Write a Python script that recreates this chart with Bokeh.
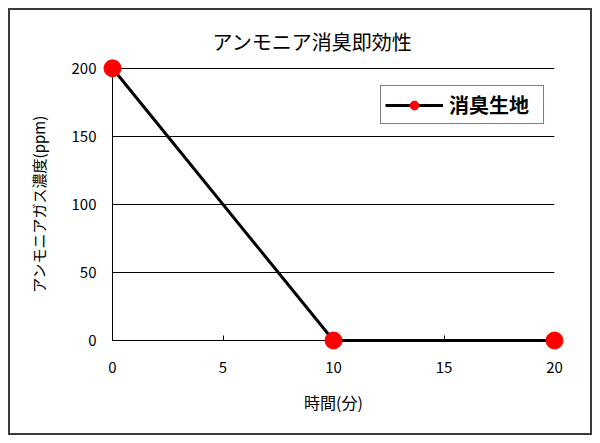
from bokeh.plotting import figure
from bokeh.models import Range1d, FixedTicker, Title, Legend, LegendItem
from bokeh.embed import file_html
from bokeh.resources import INLINE

# data
minutes = [0, 10, 20]
ppm = [200, 0, 0]
series_name = "消臭生地"
x_ticks = [0, 5, 10, 15, 20]
y_ticks = [0, 50, 100, 150, 200]

FONT = "Noto Sans CJK JP"

p = figure(width=584, height=427, output_backend="svg", toolbar_location=None,
           x_range=Range1d(0, 20), y_range=Range1d(0, 200.6),
           min_border_left=102, min_border_right=40, min_border_top=57, min_border_bottom=97)
p.styles = {"border": "2px solid #3a3a3a", "margin-left": "8px", "margin-top": "8px"}
p.outline_line_color = None
p.background_fill_color = "white"
p.border_fill_color = "white"

t = Title(text="アンモニア消臭即効性", align="left", offset=100,
          text_font=FONT, text_font_size="20px", text_font_style="normal",
          text_color="black", standoff=24)
p.add_layout(t, "above")

p.xgrid.grid_line_color = None
p.ygrid.grid_line_color = "black"
p.ygrid.grid_line_width = 1
p.ygrid.ticker = FixedTicker(ticks=y_ticks)

xa = p.xaxis[0]
xa.ticker = FixedTicker(ticks=x_ticks)
xa.axis_line_color = "black"
xa.major_tick_in = 5
xa.major_tick_out = 0
xa.major_tick_line_color = "black"
xa.minor_tick_line_color = None
xa.major_label_standoff = 21
xa.major_label_text_font = FONT
xa.major_label_text_font_size = "15px"
xa.major_label_text_color = "black"
xa.axis_label = "時間(分)"
xa.axis_label_text_font = FONT
xa.axis_label_text_font_size = "16px"
xa.axis_label_text_font_style = "normal"
xa.axis_label_text_color = "black"
xa.axis_label_standoff = 14

ya = p.yaxis[0]
ya.ticker = FixedTicker(ticks=y_ticks)
ya.axis_line_color = "black"
ya.major_tick_in = 0
ya.major_tick_out = 0
ya.minor_tick_line_color = None
ya.major_label_standoff = 16
ya.major_label_text_font = FONT
ya.major_label_text_font_size = "15px"
ya.major_label_text_color = "black"
ya.axis_label = "アンモニアガス濃度(ppm)"
ya.axis_label_text_font = FONT
ya.axis_label_text_font_size = "15px"
ya.axis_label_text_font_style = "normal"
ya.axis_label_text_color = "black"
ya.axis_label_standoff = 20

r_line = p.line(minutes, ppm, line_color="black", line_width=3, level="overlay")
r_pts = p.scatter(minutes, ppm, size=17, fill_color="red", line_color="red", level="overlay")

legend = Legend(items=[LegendItem(label=series_name, renderers=[r_line, r_pts])],
                location=(268, 216), border_line_color="black", border_line_width=1,
                label_text_font=FONT, label_text_font_size="20px", label_text_font_style="bold",
                label_text_color="black",
                glyph_width=58, glyph_height=22, padding=4, margin=0,
                label_standoff=6, label_width=90, background_fill_color="white",
                background_fill_alpha=1)
p.add_layout(legend, "center")

open("out.html", "w").write(file_html(p, INLINE))
